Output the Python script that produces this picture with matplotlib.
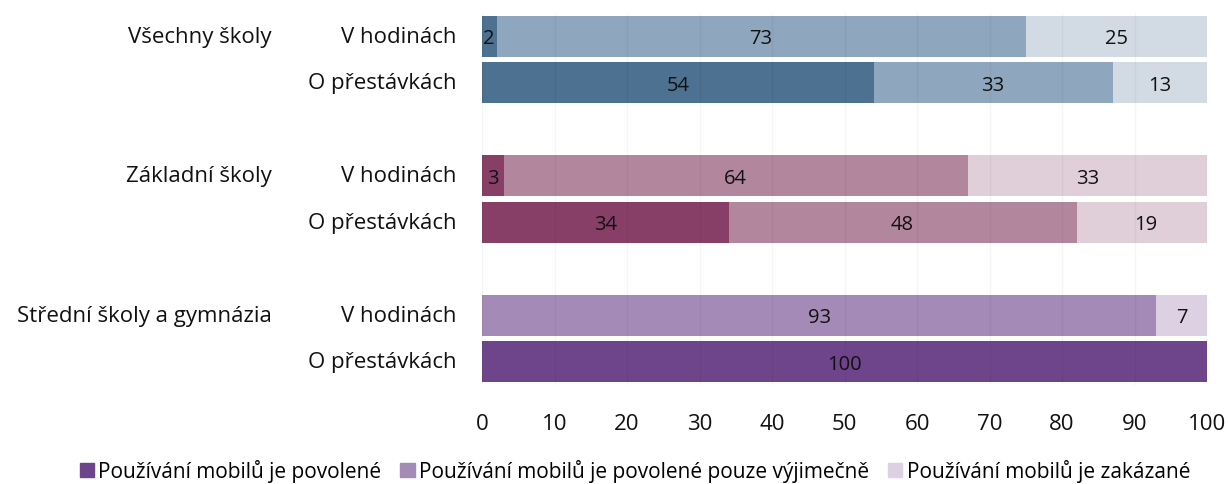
import matplotlib.pyplot as plt
import numpy as np

plt.rcParams['font.family'] = ['Open Sans', 'DejaVu Sans']

groups = ["Všechny školy", "Základní školy", "Střední školy a gymnázia"]
rows = ["V hodinách", "O přestávkách"]
legend_labels = ["Používání mobilů je povolené",
                 "Používání mobilů je povolené pouze výjimečně",
                 "Používání mobilů je zakázané"]

# values per group: [V hodinách, O přestávkách] x [povolené, výjimečně, zakázané]
allowed = [[2, 54], [3, 34], [0, 100]]
rarely = [[73, 33], [64, 48], [93, 0]]
banned = [[25, 13], [33, 19], [7, 0]]

colors = [
    ["#4c7191", "#8fa7be", "#d2dbe4"],
    ["#883f67", "#b2879d", "#e0ced8"],
    ["#6e458b", "#a48ab7", "#ddd0e2"],
]

fig = plt.figure(figsize=(12.28, 4.85), dpi=100)
ax = fig.add_axes([482 / 1228, 1 - 386 / 485, 725 / 1228, 372 / 485])

h = 0.88
for g in range(3):
    for r in range(2):
        y = g * 3 + r
        left = 0
        for k, vals in enumerate([allowed, rarely, banned]):
            v = vals[g][r]
            if v == 0:
                continue
            ax.barh(y, v, left=left, height=h, color=colors[g][k], zorder=2)
            ax.text(left + v / 2, y + 0.04, str(v), ha='center', va='center',
                    fontsize=14.5, color='#111111', zorder=4)
            left += v
        ax.text(-3.5, y, rows[r], ha='right', va='center', fontsize=16,
                color='#111111')
    ax.text(-29, g * 3, groups[g], ha='right', va='center', fontsize=16,
            color='#111111')

ax.set_xlim(0, 100)
ax.set_ylim(7.5, -0.5)
ax.set_xticks(np.arange(0, 101, 10))
ax.set_yticks([])
ax.tick_params(axis='x', length=0, labelsize=16, pad=20, colors='#111111')
for s in ax.spines.values():
    s.set_visible(False)
for x in np.arange(0, 101, 10):
    ax.axvline(x, color='#000000', alpha=0.04, lw=1, zorder=3)

handles = [plt.Rectangle((0, 0), 1, 1, color=c) for c in colors[2]]
fig.legend(handles, legend_labels, loc='lower center', ncol=3, frameon=False,
           fontsize=15, handlelength=0.7, handleheight=0.7, handletextpad=0.2,
           columnspacing=0.9, bbox_to_anchor=(0.517, -0.035))

fig.savefig("out.png", dpi=100)
